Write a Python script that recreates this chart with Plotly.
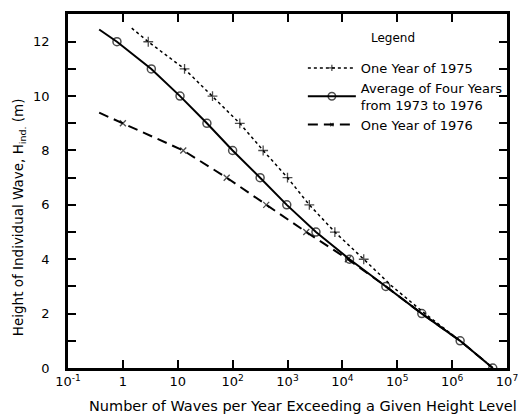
import plotly.graph_objects as go

# Data
avg_x = [0.37, 0.78, 3.3, 11, 34, 100, 317, 970, 3300, 13500, 62000, 2.8e5, 1.4e6, 5.5e6]
avg_y = [12.45, 12, 11, 10, 9, 8, 7, 6, 5, 4, 3, 2, 1, 0]

y1975_x = [1.45, 2.9, 13.3, 43, 135, 360, 1000, 2500, 7300, 24500, 8.1e4, 3.2e5, 1.4e6, 5.5e6]
y1975_y = [12.5, 12, 11, 10, 9, 8, 7, 6, 5, 4, 3, 2, 1, 0]

y1976_x = [0.37, 1.0, 12.6, 78, 410, 2200, 12600, 62000, 2.8e5, 1.4e6, 5.5e6]
y1976_y = [9.39, 9, 8, 7, 6, 5, 4, 3, 2, 1, 0]

x_tickvals = [0.1, 1, 10, 100, 1e3, 1e4, 1e5, 1e6, 1e7]
x_ticktext = ["10<sup>-1</sup>", "1", "10", "10<sup>2</sup>", "10<sup>3</sup>",
              "10<sup>4</sup>", "10<sup>5</sup>", "10<sup>6</sup>", "10<sup>7</sup>"]
y_tickvals = list(range(0, 14))
y_ticktext = [str(v) if v % 2 == 0 and v <= 12 else "" for v in y_tickvals]

FONT = "DejaVu Sans"

fig = go.Figure()

fig.add_trace(go.Scatter(
    x=y1975_x, y=y1975_y, mode="lines+markers", name="One Year of 1975",
    line=dict(color="black", width=1.5, dash="dot"),
    marker=dict(symbol="cross-thin-open", size=[0] + [7] * 9 + [0] * 4,
                line=dict(color="black", width=1.3), color="black"),
))
fig.add_trace(go.Scatter(
    x=avg_x, y=avg_y, mode="lines+markers",
    name="Average of Four Years<br>from 1973 to 1976",
    line=dict(color="black", width=2),
    marker=dict(symbol="circle-open", size=[0] + [8] * 13,
                line=dict(color="black", width=1.5), color="black"),
))
fig.add_trace(go.Scatter(
    x=y1976_x, y=y1976_y, mode="lines+markers", name="One Year of 1976",
    line=dict(color="black", width=2, dash="10px,6px"),
    marker=dict(symbol="x-thin-open", size=[0] + [6] * 6 + [0] * 4,
                line=dict(color="black", width=1.3), color="black"),
))

axis_common = dict(
    showline=True, linecolor="black", linewidth=2.5, mirror="ticks",
    ticks="inside", tickcolor="black", tickwidth=1.5, ticklen=8,
    showgrid=False, zeroline=False,
    tickfont=dict(family=FONT, size=13, color="black"),
)

fig.update_xaxes(type="log", range=[-1, 7], tickvals=x_tickvals, ticktext=x_ticktext,
                 ticklabelstandoff=0, **axis_common)
fig.update_yaxes(range=[0, 13.02], tickvals=y_tickvals, ticktext=y_ticktext,
                 ticklabelstandoff=13, **axis_common)

fig.add_annotation(
    text="Number of Waves per Year Exceeding a Given Height Level",
    xref="paper", yref="paper", x=0.535, y=-0.108, yanchor="middle", xanchor="center",
    showarrow=False, font=dict(family=FONT, size=14.5, color="black"),
)
fig.add_annotation(
    text="Height of Individual Wave, H<sub>ind.</sub> (m)",
    xref="paper", yref="paper", x=-60 / 439, y=0.426, xanchor="left", yanchor="middle",
    textangle=-90, showarrow=False, font=dict(family=FONT, size=13.5, color="black"),
)
fig.add_annotation(
    text="Legend",
    xref="paper", yref="paper", x=(393 - 68) / 439, y=(368 - 35) / 357,
    xanchor="center", yanchor="middle",
    showarrow=False, font=dict(family=FONT, size=12, color="black"),
)

# The page body adds an 8px offset, so the figure is 8px smaller each way
fig.update_layout(
    width=518, height=410,
    margin=dict(l=60, r=19, t=3, b=50),
    paper_bgcolor="white", plot_bgcolor="white",
    showlegend=True,
    legend=dict(
        x=0.535, y=0.89, xanchor="left", yanchor="top",
        bgcolor="rgba(0,0,0,0)", borderwidth=0,
        itemwidth=48,
        font=dict(family=FONT, size=13, color="black"),
        tracegroupgap=3,
    ),
)

fig.write_html("out.html")
